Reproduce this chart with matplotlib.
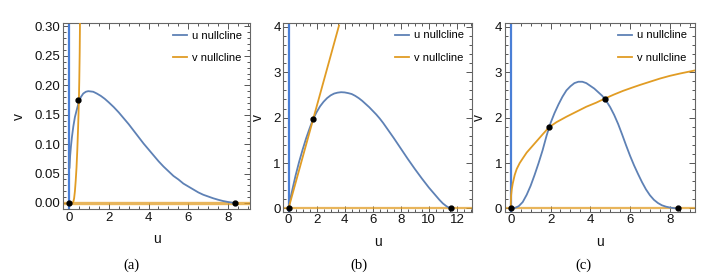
import matplotlib.pyplot as plt
from matplotlib.ticker import MultipleLocator, FormatStrFormatter

plt.rcParams['font.family'] = ['Liberation Sans', 'DejaVu Sans']

AZUL = '#5E81B5'
AZUL_EJE = '#4A7FD6'
NARANJA = '#E19C24'

# (a) valores
a_u_hump = [0.03, 0.06, 0.1, 0.15, 0.22, 0.3, 0.39, 0.5, 0.6, 0.72, 0.85, 0.97, 1.1, 1.22, 1.4, 1.6, 1.8, 2.0,
            2.25, 2.5, 2.75, 3.0, 3.25, 3.5, 3.75, 4.0, 4.25, 4.5, 4.75, 5.0, 5.25, 5.5, 5.75, 6.0, 6.25,
            6.5, 6.75, 7.0, 7.25, 7.5, 7.75, 8.0, 8.2, 8.35]
a_v_hump = [0.06, 0.08, 0.096, 0.112, 0.13, 0.146, 0.158, 0.172, 0.180, 0.186, 0.189, 0.190, 0.1895, 0.189,
            0.186, 0.182, 0.177, 0.171, 0.163, 0.154, 0.144, 0.134, 0.123, 0.112, 0.101, 0.091, 0.081, 0.071,
            0.062, 0.054, 0.046, 0.040, 0.033, 0.028, 0.023, 0.018, 0.014, 0.011, 0.008, 0.0055, 0.0033,
            0.0017, 0.0006, 0.0]
a_u_vnull = [0.18, 0.22, 0.26, 0.30, 0.34, 0.38, 0.42, 0.46, 0.48, 0.50, 0.52, 0.54, 0.555]
a_v_vnull = [0.0, 0.002, 0.008, 0.02, 0.038, 0.06, 0.09, 0.128, 0.15, 0.175, 0.21, 0.255, 0.306]
a_u_pts = [0, 0.48, 8.35]
a_v_pts = [0, 0.175, 0]

# (b)
b_u_hump = [0, 0.15, 0.3, 0.5, 0.75, 1.0, 1.25, 1.5, 1.74, 2.0, 2.25, 2.5, 2.75, 3.0, 3.25, 3.5, 3.75, 4.0,
            4.25, 4.5, 4.75, 5.0, 5.25, 5.5, 5.75, 6.0, 6.25, 6.5, 6.75, 7.0, 7.5, 8.0, 8.5, 9.0, 9.5, 10.0,
            10.5, 10.75, 11.0, 11.25, 11.45, 11.57]
b_v_hump = [0, 0.24, 0.45, 0.72, 1.02, 1.29, 1.54, 1.76, 1.96, 2.12, 2.25, 2.35, 2.43, 2.49, 2.53, 2.55, 2.56,
            2.555, 2.54, 2.52, 2.48, 2.43, 2.37, 2.30, 2.23, 2.15, 2.07, 1.98, 1.88, 1.77, 1.55, 1.32, 1.09,
            0.87, 0.66, 0.46, 0.28, 0.19, 0.11, 0.05, 0.015, 0]
b_u_vnull = [0, 3.6]
b_v_vnull = [0, 4.03]
b_u_pts = [0, 1.74, 11.57]
b_v_pts = [0, 1.97, 0]

# (c)
c_u_hump = [0, 0.2, 0.4, 0.6, 0.8, 1.0, 1.2, 1.4, 1.6, 1.8, 2.0, 2.2, 2.4, 2.6, 2.8, 3.0, 3.2, 3.4, 3.6, 3.8,
            4.0, 4.2, 4.4, 4.6, 4.8, 5.0, 5.2, 5.4, 5.6, 5.8, 6.0, 6.2, 6.4, 6.6, 6.8, 7.0, 7.2, 7.4, 7.6,
            7.8, 8.0, 8.2, 8.42]
c_v_hump = [0, 0.01, 0.05, 0.14, 0.3, 0.5, 0.74, 1.0, 1.28, 1.60, 1.88, 2.10, 2.29, 2.46, 2.6, 2.69, 2.76,
            2.79, 2.79, 2.76, 2.70, 2.64, 2.56, 2.48, 2.37, 2.23, 2.06, 1.86, 1.63, 1.39, 1.16, 0.95, 0.76,
            0.58, 0.42, 0.29, 0.19, 0.12, 0.07, 0.04, 0.02, 0.007, 0]
c_u_vnull = [0, 0.005, 0.02, 0.05, 0.1, 0.2, 0.3, 0.45, 0.6, 0.8, 1.0, 1.3, 1.6, 1.93, 2.3, 2.8, 3.3, 3.8,
             4.3, 4.73, 5.2, 5.65, 6.1, 6.5, 7.0, 7.5, 8.0, 8.5, 9.27]
c_v_vnull = [0, 0.15, 0.3, 0.42, 0.55, 0.74, 0.87, 1.0, 1.1, 1.23, 1.33, 1.48, 1.63, 1.79, 1.90, 2.02, 2.13,
             2.24, 2.33, 2.42, 2.51, 2.59, 2.66, 2.72, 2.79, 2.86, 2.92, 2.97, 3.04]
c_u_pts = [0, 1.93, 4.73, 8.4]
c_v_pts = [0, 1.80, 2.42, 0]

paneles = [
    dict(pos=[0.0882, 0.2455, 0.262, 0.671], hu=a_u_hump, hv=a_v_hump, vu=a_u_vnull, vv=a_v_vnull,
         pu=a_u_pts, pv=a_v_pts, xlim=(-0.3, 9.1), ylim=(-0.0102, 0.3056),
         xmaj=2, xmin=0.5, ymaj=0.05, ymin=0.01, fmt='%.2f', hw=2.4, cap='(a)', capx=0.184),
    dict(pos=[0.397, 0.236, 0.264, 0.682], hu=b_u_hump, hv=b_v_hump, vu=b_u_vnull, vv=b_v_vnull,
         pu=b_u_pts, pv=b_v_pts, xlim=(-0.36, 13.07), ylim=(-0.07, 4.09),
         xmaj=2, xmin=0.5, ymaj=1, ymin=0.2, fmt='%d', hw=1.6, cap='(b)', capx=0.503),
    dict(pos=[0.707, 0.236, 0.2665, 0.682], hu=c_u_hump, hv=c_v_hump, vu=c_u_vnull, vv=c_v_vnull,
         pu=c_u_pts, pv=c_v_pts, xlim=(-0.3, 9.27), ylim=(-0.07, 4.09),
         xmaj=2, xmin=0.5, ymaj=1, ymin=0.2, fmt='%d', hw=1.6, cap='(c)', capx=0.817),
]

fig = plt.figure(figsize=(7.14, 2.77), dpi=100)

for p in paneles:
    ax = fig.add_axes(p['pos'])
    ax.axvline(0, color=AZUL_EJE, lw=1.6, zorder=2)
    ax.axhline(0, color=NARANJA, lw=p['hw'], alpha=0.75, zorder=2)
    ax.plot(p['hu'], p['hv'], color=AZUL, lw=1.3, label='u nullcline', zorder=3)
    ax.plot(p['vu'], p['vv'], color=NARANJA, lw=1.3, label='v nullcline', zorder=3)
    ax.plot(p['pu'], p['pv'], 'o', color='black', ms=3.5, zorder=5)
    ax.set_xlim(p['xlim'])
    ax.set_ylim(p['ylim'])
    ax.xaxis.set_major_locator(MultipleLocator(p['xmaj']))
    ax.xaxis.set_minor_locator(MultipleLocator(p['xmin']))
    ax.yaxis.set_major_locator(MultipleLocator(p['ymaj']))
    ax.yaxis.set_minor_locator(MultipleLocator(p['ymin']))
    ax.yaxis.set_major_formatter(FormatStrFormatter(p['fmt']))
    ax.tick_params(which='both', direction='in', top=True, right=True,
                   color='#555555', labelsize=9.5, labelcolor='#111111', width=0.7)
    ax.tick_params(which='major', length=4, pad=2)
    ax.tick_params(which='minor', length=2)
    for s in ax.spines.values():
        s.set_color('#666666')
        s.set_linewidth(0.8)
    ax.set_xlabel('u', fontsize=10, color='#111111', labelpad=6)
    ax.set_ylabel('v', fontsize=10, color='#111111', labelpad=6)
    ax.legend(loc='upper right', frameon=False, fontsize=8, handlelength=1.2,
              handletextpad=0.5, labelspacing=1.1, borderaxespad=0.3)
    fig.text(p['capx'], 0.03, p['cap'], family=['Liberation Serif', 'DejaVu Serif'],
             fontsize=10.5, ha='center', va='baseline')

fig.savefig('out.png', dpi=100)
